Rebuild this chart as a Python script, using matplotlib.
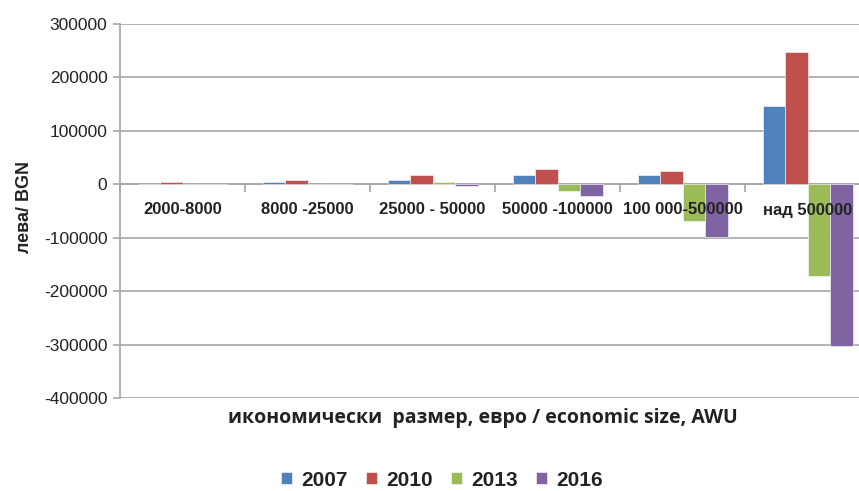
import matplotlib
matplotlib.use("Agg")
import matplotlib.pyplot as plt
import matplotlib.transforms as mtransforms
import numpy as np

categories = ["2000-8000", "8000 -25000", "25000 - 50000", "50000 -100000", "100 000-500000", "над 500000"]
years = ["2007", "2010", "2013", "2016"]
v2007 = [0, 4000, 8000, 18000, 18000, 146000]
v2010 = [5000, 8000, 18000, 28000, 25000, 248000]
v2013 = [0, 0, 4000, -12000, -68000, -172000]
v2016 = [0, 0, -4000, -21000, -98000, -302000]
colors = ["#4F81BD", "#C0504D", "#9BBB59", "#8064A2"]
yticks = [300000, 200000, 100000, 0, -100000, -200000, -300000, -400000]

plt.rcParams['font.family'] = ['Liberation Sans', 'DejaVu Sans']

W, H = 859, 491
fig = plt.figure(figsize=(W / 100, H / 100), dpi=100)
ax = fig.add_axes([120 / W, (H - 398) / H, 750 / W, 374 / H])

series = [v2007, v2010, v2013, v2016]
x = np.arange(len(categories))
bw = 0.18
for i, (vals, c, lab) in enumerate(zip(series, colors, years)):
    ax.bar(x - 1.5 * bw + i * bw, vals, width=bw, color=c, edgecolor="white",
           linewidth=0.4, label=lab, zorder=3)

ax.set_xlim(-0.5, len(categories) - 0.5)
ax.set_ylim(-400000, 300000)
ax.set_yticks(yticks)
ax.set_yticklabels([str(t) for t in yticks], fontsize=12.5, color="#222222")
ax.yaxis.grid(True, color="#A6A6A6", linewidth=1.2, zorder=0)
ax.set_axisbelow(True)

for s in ["top", "right"]:
    ax.spines[s].set_visible(False)
ax.spines["left"].set_color("#A6A6A6")
ax.spines["left"].set_linewidth(1.2)
ax.spines["bottom"].set_position(("data", 0))
ax.spines["bottom"].set_color("#A6A6A6")
ax.spines["bottom"].set_linewidth(1.2)
ax.spines["bottom"].set_zorder(2)
ax.tick_params(axis="y", length=5, color="#A6A6A6", width=1.2, pad=4)

ax.set_xticks(x)
ax.set_xticklabels([])
ax.tick_params(axis="x", which="major", length=0)
ax.set_xticks(np.arange(len(categories) + 1) - 0.5, minor=True)
ax.tick_params(axis="x", which="minor", length=6, color="#A6A6A6", width=1.2, direction="out")

trans = mtransforms.blended_transform_factory(ax.transData, ax.transAxes)
for xi, cat in zip(x, categories):
    ax.text(xi, (398 - 210) / 374, cat, transform=trans, ha="center", va="center",
            fontsize=12, fontweight="bold", color="#222222", zorder=10)

fig.text(25 / W, 1 - 207 / H, "лева/ BGN", rotation=90, ha="center", va="center",
         fontsize=13, fontweight="bold", color="#222222")
fig.text(483 / W, 1 - 418 / H, "икономически  размер, евро / economic size, AWU",
         ha="center", va="center", fontsize=14, fontweight="bold", color="#222222",
         family=["Open Sans", "DejaVu Sans"])

leg = fig.legend(loc="center", bbox_to_anchor=(442 / W, 1 - 480 / H), ncol=4, frameon=False,
                 prop={"weight": "bold", "size": 15}, handlelength=0.55, handleheight=0.55,
                 handletextpad=0.45, columnspacing=0.85)
for t in leg.get_texts():
    t.set_color("#222222")

fig.savefig("out.png", dpi=100)
